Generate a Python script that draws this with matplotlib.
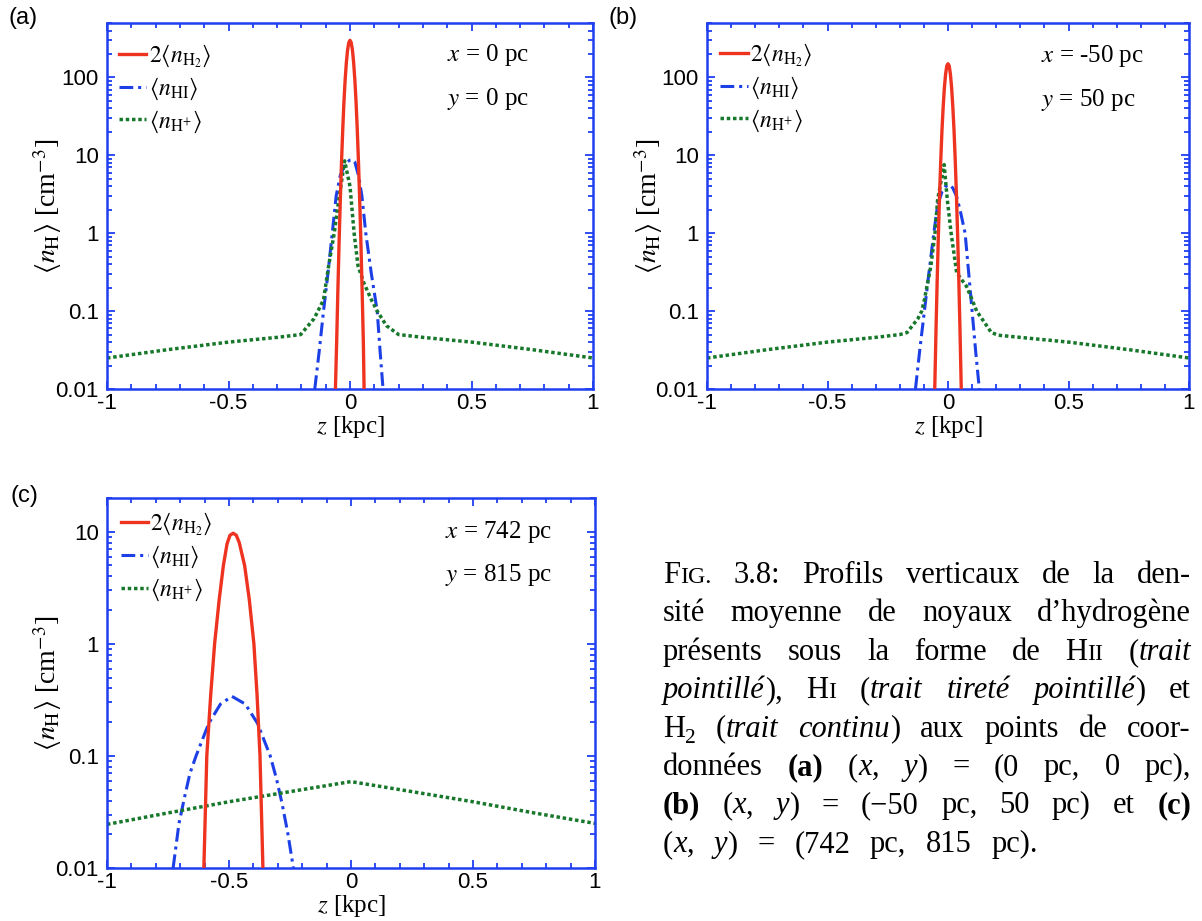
import numpy as np
import matplotlib
matplotlib.use('Agg')
import matplotlib.pyplot as plt
from matplotlib.ticker import FixedLocator, FuncFormatter, NullFormatter, LogLocator, MultipleLocator
from matplotlib.lines import Line2D

# ---------------- data ----------------
# panel (a): x = 0 pc, y = 0 pc
a_z_h2 = [-0.06, -0.055, -0.05, -0.045, -0.04, -0.035, -0.03, -0.025, -0.02, -0.015, -0.01, -0.005, 0.0,
          0.005, 0.01, 0.015, 0.02, 0.025, 0.03, 0.035, 0.04, 0.045, 0.05, 0.055, 0.058]
a_h2 = [0.01, 0.039, 0.18, 0.74, 2.6, 8, 21, 48, 93, 155, 225, 280, 300,
        280, 225, 155, 93, 48, 21, 8, 2.6, 0.74, 0.18, 0.039, 0.01]
a_z_hi = [-0.145, -0.127, -0.109, -0.091, -0.073, -0.057, -0.04, -0.02, 0.0, 0.01, 0.02, 0.035, 0.049,
          0.065, 0.088, 0.112, 0.124, 0.136]
a_hi = [0.01, 0.03, 0.1, 0.3, 1, 3, 5.5, 7.8, 8.7, 8.8, 8.2, 5.5, 3, 1, 0.3, 0.1, 0.03, 0.01]
a_z_hp = [-1, -0.75, -0.5, -0.3, -0.203, -0.148, -0.132, -0.109, -0.088, -0.065, -0.046, -0.022, 0.0,
          0.017, 0.033, 0.057, 0.088, 0.112, 0.15, 0.2, 0.3, 0.5, 0.75, 1]
a_hp = [0.025, 0.032, 0.040, 0.046, 0.05, 0.08, 0.1, 0.14, 0.38, 1, 2.7, 8.5, 4,
        1, 0.38, 0.23, 0.14, 0.1, 0.065, 0.05, 0.046, 0.040, 0.032, 0.025]

# panel (b): x = -50 pc, y = 50 pc
b_z_h2 = [-0.055, -0.05, -0.045, -0.04, -0.035, -0.03, -0.025, -0.02, -0.015, -0.01, -0.005, 0.0,
          0.005, 0.01, 0.015, 0.02, 0.025, 0.03, 0.035, 0.04, 0.045, 0.05, 0.055]
b_h2 = [0.01, 0.053, 0.24, 0.93, 3.1, 8.7, 21, 42, 74, 110, 141, 150,
        141, 110, 74, 42, 21, 8.7, 3.1, 0.93, 0.24, 0.053, 0.01]
b_z_hi = [-0.135, -0.118, -0.098, -0.078, -0.059, -0.043, -0.025, -0.01, 0.005, 0.02, 0.035, 0.05,
          0.071, 0.085, 0.1, 0.115, 0.13]
b_hi = [0.01, 0.03, 0.1, 0.33, 1, 2.3, 3.4, 4.0, 4.2, 3.8, 3.0, 2.0, 1, 0.33, 0.1, 0.03, 0.01]
b_z_hp = [-1, -0.75, -0.5, -0.3, -0.2, -0.17, -0.125, -0.109, -0.098, -0.071, -0.054, -0.043, -0.016,
          -0.003, 0.013, 0.036, 0.076, 0.1, 0.119, 0.18, 0.21, 0.3, 0.5, 0.75, 1]
b_hp = [0.025, 0.032, 0.040, 0.046, 0.05, 0.053, 0.08, 0.1, 0.14, 0.38, 1, 2.7, 7.6,
        2.7, 1, 0.31, 0.21, 0.14, 0.1, 0.053, 0.049, 0.046, 0.040, 0.032, 0.025]

# panel (c): x = 742 pc, y = 815 pc
c_z_h2 = [-0.603, -0.591, -0.575, -0.559, -0.54, -0.523, -0.508, -0.496, -0.483, -0.47, -0.458, -0.436,
          -0.417, -0.398, -0.385, -0.373, -0.361]
c_h2 = [0.01, 0.1, 0.35, 1, 2.5, 5, 7.8, 9.3, 9.7, 9.3, 8.0, 5, 2.5, 1, 0.35, 0.1, 0.01]
c_z_hi = [-0.729, -0.705, -0.68, -0.66, -0.635, -0.583, -0.535, -0.488, -0.433, -0.383, -0.331, -0.305,
          -0.283, -0.26, -0.236]
c_hi = [0.01, 0.025, 0.045, 0.07, 0.1, 0.195, 0.29, 0.34, 0.29, 0.195, 0.1, 0.062, 0.038, 0.021, 0.01]
c_z_hp = [-1, -0.75, -0.5, -0.25, 0, 0.25, 0.5, 0.75, 1]
c_hp = [0.0245, 0.031, 0.039, 0.048, 0.059, 0.048, 0.039, 0.031, 0.025]

x_ticks = [-1, -0.5, 0, 0.5, 1]
y_ticks_ab = [0.01, 0.1, 1, 10, 100]
y_ticks_c = [0.01, 0.1, 1, 10]
legend_labels = [r'$2\langle n_{\mathrm{H}_2}\rangle$', r'$\langle n_{\mathrm{HI}}\rangle$',
                 r'$\langle n_{\mathrm{H}^{+}}\rangle$']
coords_a = ('0', '0')
coords_b = ('-50', '50')
coords_c = ('742', '815')

# caption: each line = list of words, each word = list of (text, style)
caption_lines = [
    [[('F', 'rm'), ('IG.', 'sc')], [('3.8:', 'rm')], [('Profils', 'rm')], [('verticaux', 'rm')],
     [('de', 'rm')], [('la', 'rm')], [('den-', 'rm')]],
    [[('sité', 'rm')], [('moyenne', 'rm')], [('de', 'rm')], [('noyaux', 'rm')], [('d’hydrogène', 'rm')]],
    [[('présents', 'rm')], [('sous', 'rm')], [('la', 'rm')], [('forme', 'rm')], [('de', 'rm')],
     [('H', 'rm'), ('II', 'sc')], [('(', 'rm'), ('trait', 'it')]],
    [[('pointillé', 'it'), ('),', 'rm')], [('H', 'rm'), ('I', 'sc')], [('(', 'rm'), ('trait', 'it')],
     [('tireté', 'it')], [('pointillé', 'it'), (')', 'rm')], [('et', 'rm')]],
    [[('H', 'rm'), ('2', 'sub')], [('(', 'rm'), ('trait', 'it')], [('continu', 'it'), (')', 'rm')],
     [('aux', 'rm')], [('points', 'rm')], [('de', 'rm')], [('coor-', 'rm')]],
    [[('données', 'rm')], [('(a)', 'bf')], [('(', 'rm'), ('x', 'it'), (',', 'rm')], [('y', 'it'), (')', 'rm')],
     [('=', 'rm')], [('(0', 'rm')], [('pc,', 'rm')], [('0', 'rm')], [('pc),', 'rm')]],
    [[('(b)', 'bf')], [('(', 'rm'), ('x', 'it'), (',', 'rm')], [('y', 'it'), (')', 'rm')], [('=', 'rm')],
     [('(−50', 'rm')], [('pc,', 'rm')], [('50', 'rm')], [('pc)', 'rm')], [('et', 'rm')], [('(c)', 'bf')]],
    [[('(', 'rm'), ('x', 'it'), (',', 'rm')], [('y', 'it'), (')', 'rm')], [('=', 'rm')], [('(742', 'rm')],
     [('pc,', 'rm')], [('815', 'rm')], [('pc).', 'rm')]],
]

# ---------------- style ----------------
plt.rcParams['mathtext.fontset'] = 'stix'
plt.rcParams['axes.unicode_minus'] = False
plt.rcParams['font.family'] = ['Liberation Sans', 'DejaVu Sans']

W, H = 1202, 921
fig = plt.figure(figsize=(W / 100, H / 100), dpi=100)

AXC = '#1f3ff0'
RED = '#ee3320'
BLUE = '#1d3fe6'
GREEN = '#17782b'
SERIF = 'Liberation Serif'
DASHDOT = (0, (4.5, 1.6, 1, 1.6))
DOTTED = (0, (1, 0.8))


def px_rect(l, t, r, b):
    return [l / W, 1 - b / H, (r - l) / W, (b - t) / H]


panels = [
    dict(rect=px_rect(107, 23, 593, 389), lab='(a)', labxy=(9, 7), ylim=(0.01, 500), yt=y_ticks_ab,
         d=(a_z_h2, a_h2, a_z_hi, a_hi, a_z_hp, a_hp), co=coords_a, ann=(0.70, 0.912, 0.793), leg=(0.025, 0.947)),
    dict(rect=px_rect(707, 23, 1189, 389), lab='(b)', labxy=(608, 7), ylim=(0.01, 500), yt=y_ticks_ab,
         d=(b_z_h2, b_h2, b_z_hi, b_hi, b_z_hp, b_hp), co=coords_b, ann=(0.693, 0.91, 0.79), leg=(0.028, 0.950)),
    dict(rect=px_rect(107, 498, 595, 868), lab='(c)', labxy=(10, 485), ylim=(0.01, 20), yt=y_ticks_c,
         d=(c_z_h2, c_h2, c_z_hi, c_hi, c_z_hp, c_hp), co=coords_c, ann=(0.693, 0.908, 0.792), leg=(0.028, 0.966)),
]

for p in panels:
    ax = fig.add_axes(p['rect'])
    zh2, h2, zhi, hi, zhp, hp = p['d']
    ax.plot(zh2, h2, color=RED, lw=2.4, solid_capstyle='butt', solid_joinstyle='round', zorder=3)
    ax.plot(zhi, hi, color=BLUE, lw=2.2, linestyle=DASHDOT, zorder=2)
    ax.plot(zhp, hp, color=GREEN, lw=2.5, linestyle=DOTTED, zorder=2)
    ax.set_yscale('log')
    ax.set_xlim(-1, 1)
    ax.set_ylim(*p['ylim'])
    ax.yaxis.set_major_locator(FixedLocator(p['yt']))
    ax.yaxis.set_major_formatter(FuncFormatter(lambda v, _: '%g' % v))
    ax.yaxis.set_minor_locator(LogLocator(base=10, subs=np.arange(2, 10)))
    ax.yaxis.set_minor_formatter(NullFormatter())
    ax.xaxis.set_major_locator(FixedLocator(x_ticks))
    ax.xaxis.set_major_formatter(FuncFormatter(lambda v, _: '%g' % v))
    ax.xaxis.set_minor_locator(MultipleLocator(0.1))
    ax.tick_params(which='both', direction='in', top=True, right=True, color=AXC,
                   labelcolor='black', labelsize=16, width=1.3)
    ax.tick_params(which='major', length=6)
    ax.tick_params(axis='x', which='major', pad=3)
    ax.tick_params(axis='y', which='major', pad=6)
    ax.tick_params(which='minor', length=3.5)
    for s in ax.spines.values():
        s.set_color(AXC)
        s.set_linewidth(1.8)
    ax.set_xlabel(r'$z$ [kpc]', fontsize=18, family=SERIF)
    ax.xaxis.set_label_coords(0.5, -0.068)
    ax.set_ylabel(r'$\langle n_{\mathrm{H}}\rangle$ [cm$^{-3}$]', fontsize=20, family=SERIF)
    ax.yaxis.set_label_coords(-0.088, 0.5)

    handles = [Line2D([], [], color=RED, lw=2.4),
               Line2D([], [], color=BLUE, lw=2.2, linestyle=DASHDOT),
               Line2D([], [], color=GREEN, lw=2.5, linestyle=DOTTED)]
    ax.legend(handles, legend_labels, loc='upper left', bbox_to_anchor=p['leg'], frameon=False,
              prop={'family': SERIF, 'size': 17}, handlelength=1.15, handletextpad=0.1,
              labelspacing=0.27, borderpad=0, borderaxespad=0)

    ax_x, y1, y2 = p['ann']
    ax.text(ax_x, y1, r'$x$ = %s pc' % p['co'][0], transform=ax.transAxes, fontsize=18,
            family=SERIF, ha='left', va='center')
    ax.text(ax_x, y2, r'$y$ = %s pc' % p['co'][1], transform=ax.transAxes, fontsize=18,
            family=SERIF, ha='left', va='center')

    fig.text(p['labxy'][0] / W, 1 - p['labxy'][1] / H, p['lab'], fontsize=17,
             family='Liberation Sans', ha='left', va='top')

# ---------------- caption (justified) ----------------
renderer = fig.canvas.get_renderer()
FS = 22
style_props = {
    'rm': dict(family=SERIF, fontsize=FS),
    'it': dict(family=SERIF, fontsize=FS, style='italic'),
    'bf': dict(family=SERIF, fontsize=FS, weight='bold'),
    'sc': dict(family=SERIF, fontsize=FS * 0.78),
    'sub': dict(family=SERIF, fontsize=FS * 0.7),
}
style_dy = {'rm': 0, 'it': 0, 'bf': 0, 'sc': 0, 'sub': -6}


def seg_width(txt, st):
    t = fig.text(0, 0, txt, **style_props[st])
    w = t.get_window_extent(renderer).width
    t.remove()
    return w


X0 = 663
line_right = [1191, 1191, 1191, 1191, 1191, 1191, 1191, 1038]
BASE0, LSTEP = 583, 38.4
for i, words in enumerate(caption_lines):
    base = BASE0 + i * LSTEP
    wwidths = [[seg_width(t, s) for t, s in w] for w in words]
    tot = sum(sum(ws) for ws in wwidths)
    gap = (line_right[i] - X0 - tot) / (len(words) - 1)
    x = X0
    for w, ws in zip(words, wwidths):
        for (t, s), sw in zip(w, ws):
            fig.text(x / W, 1 - (base - style_dy[s]) / H, t, ha='left', va='baseline', **style_props[s])
            x += sw
        x += gap

fig.savefig('out.png', dpi=100)
